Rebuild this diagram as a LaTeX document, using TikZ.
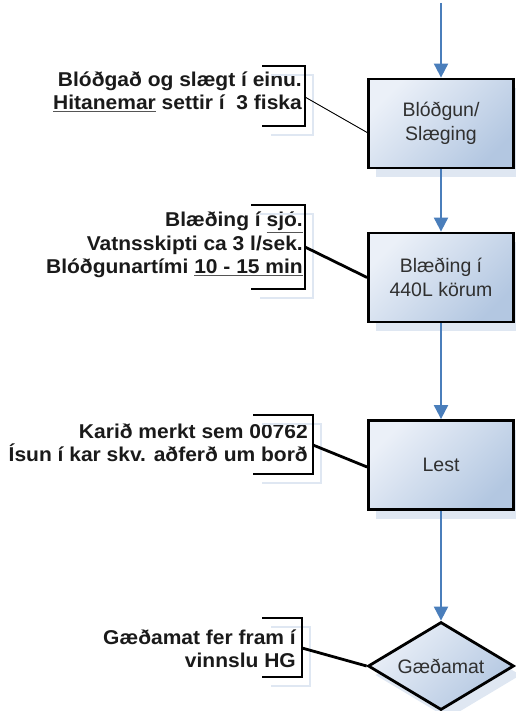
\documentclass[tikz,border=0pt]{standalone}
\usepackage{fontspec}
\setmainfont{Liberation Sans}
\newfontfamily\notefont[FakeStretch=1.05]{Liberation Sans}
\usetikzlibrary{arrows.meta,shapes.geometric,shadows,calc}
\definecolor{flowblue}{HTML}{4A7EBB}
\definecolor{shadowblue}{HTML}{DFE7F2}
\definecolor{boxlight}{HTML}{EBF0F8}
\definecolor{boxdark}{HTML}{B3C7E1}
\definecolor{boxtext}{HTML}{303030}
\definecolor{notetext}{HTML}{1A1A1A}
\definecolor{ulgray}{HTML}{555555}
\newcommand{\ulx}[1]{{\color{ulgray}\underline{\color{notetext}#1}}}
\begin{document}
\begin{tikzpicture}[x=1pt,y=-1pt,
  stepbox/.style={draw=black, line width=2.8pt, top color=boxlight,
    bottom color=boxdark, shading angle=45, minimum width=145pt,
    minimum height=89pt, inner sep=0pt, align=center, text=boxtext,
    font=\fontsize{19.5}{24}\selectfont,
    drop shadow={shadow xshift=7pt, shadow yshift=-9pt, fill=shadowblue, opacity=1}},
  decisionbox/.style={stepbox, shape=diamond, minimum width=146pt,
    minimum height=88pt, aspect=1.66},
  flow/.style={draw=flowblue, line width=2pt,
    -{Triangle[width=14pt,length=14pt]}},
  note/.style={anchor=east, align=right, inner sep=0pt,
    font=\notefont\bfseries\fontsize{20}{23.5}\selectfont, text=notetext},
  bracket/.style={draw=black, line width=2.8pt, line join=miter},
  bracketshadow/.style={draw=shadowblue, line width=2pt},
  link/.style={draw=black, line width=2.8pt},
  thinlink/.style={draw=black, line width=0.9pt},
]
\useasboundingbox (0,0) rectangle (515,711);

% flow steps
\node[stepbox] (b1) at (441,123.5) {Blóðgun/\\Slæging};
\node[stepbox] (b2) at (441,277.5) {Blæðing í\\440L körum};
\node[stepbox] (b3) at (441,465) {Lest};
\node[decisionbox] (d1) at (441,666) {Gæðamat};

% flow arrows
\coordinate (start) at (441,3);
\draw[flow] (start) -- (b1.north);
\draw[flow] (b1.south) -- (b2.north);
\draw[flow] (b2.south) -- (b3.north);
\draw[flow] (b3.south) -- (d1.north);

% notes with their brackets
\node[note] (n1) at (302,92) {Blóðgað og slægt í einu.\\\ulx{Hitanemar} settir í~ 3 fiska};
\node[note] (n2) at (303,245) {Blæðing í \ulx{sjó.}\\Vatnsskipti ca 3 l/sek.\\Blóðgunartími \ulx{10 - 15 min}};
\node[note] (n3) at (308,443) {Karið merkt sem 00762\\Ísun í kar skv. aðferð um borð};
\node[note] (n4) at (296,649) {Gæðamat fer fram í\\vinnslu HG};

\coordinate (k1) at (305,97);
\coordinate (k2) at (305,247);
\coordinate (k3) at (313,445);
\coordinate (k4) at (302,648);

% bracket shadows
\draw[bracketshadow] (271,75) -- (313,75) -- (313,135) -- (271,135);
\draw[bracketshadow] (260,214) -- (313,214) -- (313,298) -- (260,298);
\draw[bracketshadow] (262,424) -- (321,424) -- (321,483) -- (262,483);
\draw[bracketshadow] (271,627) -- (310,627) -- (310,686) -- (271,686);

% brackets
\draw[bracket] (262,66) -- (305,66) -- (305,126) -- (262,126);
\draw[bracket] (251,205) -- (305,205) -- (305,289) -- (251,289);
\draw[bracket] (253,415) -- (313,415) -- (313,474) -- (253,474);
\draw[bracket] (262,618) -- (302,618) -- (302,677) -- (262,677);

% links from notes to steps
\draw[thinlink] (k1) -- ([yshift=-9pt]b1.west);
\draw[link] (k2) -- (b2.west);
\draw[link] (k3) -- ([yshift=-2pt]b3.west);
\draw[link] (k4) -- (d1.west);
\end{tikzpicture}
\end{document}
